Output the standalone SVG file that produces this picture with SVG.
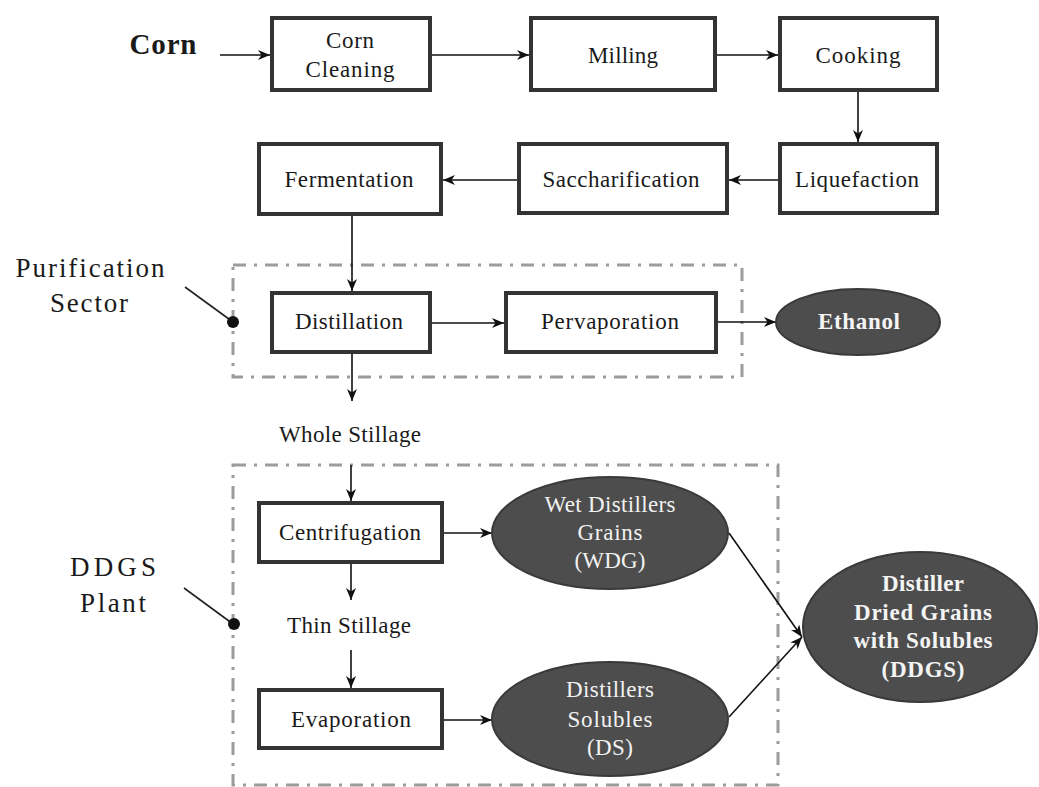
<svg xmlns="http://www.w3.org/2000/svg" width="1039" height="787" viewBox="0 0 1039 787" font-family="'Liberation Serif', 'Times New Roman', Times, 'DejaVu Serif', serif">
<style>
  text { font-family: 'Liberation Serif', 'Times New Roman', Times, 'DejaVu Serif', serif; fill: #1a1a1a; }
  .lbl { font-size: 23px; text-anchor: middle; }
  .big { font-size: 27px; text-anchor: middle; }
  .wl { font-size: 23px; text-anchor: middle; fill: #f2f2f2; }
  .wb { font-size: 23px; text-anchor: middle; fill: #f4f4f4; font-weight: bold; }
  .box { fill: #ffffff; stroke: #333333; stroke-width: 4; }
  .ell { fill: #4d4d4d; stroke: #3a3a3a; stroke-width: 2; }
  .zone { fill: none; stroke: #9c9c9c; stroke-width: 3; stroke-dasharray: 13 8 3 8; }
  .con { stroke: #111111; stroke-width: 1.6; fill: none; marker-end: url(#ah); }
  .lead { stroke: #222222; stroke-width: 1.6; fill: none; }
</style>
<defs>
  <marker id="ah" markerUnits="userSpaceOnUse" markerWidth="12" markerHeight="10" refX="12" refY="5" orient="auto">
    <path d="M0,0 L12,5 L0,10 L3.5,5 Z" fill="#111111"/>
  </marker>
</defs>
<rect width="1039" height="787" fill="#ffffff"/>

<g id="zones">
  <rect id="purification-zone" class="zone" x="233" y="265" width="509" height="112"/>
  <rect id="ddgs-zone" class="zone" x="233" y="465" width="545" height="320"/>
</g>

<g id="labels" font-family="'Liberation Serif', 'Times New Roman', serif">
  <text id="corn-label" x="163" y="54" font-family="'Liberation Serif', serif" style="font-size:29px;font-weight:bold;text-anchor:middle" textLength="67">Corn</text>
  <g id="purification-label">
    <text class="big" x="90" y="277" font-family="'Liberation Serif', serif" textLength="149">Purification</text>
    <text class="big" x="89" y="312" font-family="'Liberation Serif', serif" textLength="78">Sector</text>
    <line class="lead" x1="185" y1="287" x2="233" y2="322"/>
    <circle cx="233" cy="322" r="6" fill="#111111"/>
  </g>
  <g id="ddgs-plant-label">
    <text class="big" x="113" y="576" font-family="'Liberation Serif', serif" textLength="86">DDGS</text>
    <text class="big" x="113" y="612" font-family="'Liberation Serif', serif" textLength="66">Plant</text>
    <line class="lead" x1="184" y1="588" x2="233" y2="624"/>
    <circle cx="234" cy="624" r="6" fill="#111111"/>
  </g>
  <text id="whole-stillage" class="lbl" x="350" y="442" textLength="142">Whole Stillage</text>
  <text id="thin-stillage" class="lbl" x="349" y="633" textLength="124">Thin Stillage</text>
</g>

<g id="connectors">
  <line class="con" x1="220" y1="55" x2="270" y2="55"/>
  <line class="con" x1="432" y1="55" x2="529" y2="55"/>
  <line class="con" x1="717" y1="55" x2="778" y2="55"/>
  <line class="con" x1="858" y1="92" x2="858" y2="142"/>
  <line class="con" x1="778" y1="180" x2="729" y2="180"/>
  <line class="con" x1="517" y1="180" x2="443" y2="180"/>
  <line class="con" x1="352" y1="216" x2="352" y2="291"/>
  <line class="con" x1="432" y1="323" x2="504" y2="323"/>
  <line class="con" x1="717" y1="322" x2="776" y2="322"/>
  <line class="con" x1="352" y1="354" x2="352" y2="401"/>
  <line class="con" x1="351" y1="465" x2="351" y2="501"/>
  <line class="con" x1="351" y1="564" x2="351" y2="600"/>
  <line class="con" x1="351" y1="650" x2="351" y2="688"/>
  <line class="con" x1="444" y1="533" x2="492" y2="533"/>
  <line class="con" x1="444" y1="720" x2="492" y2="720"/>
  <line class="con" x1="729" y1="533" x2="802" y2="637"/>
  <line class="con" x1="729" y1="717" x2="802" y2="637"/>
</g>

<g id="corn-cleaning">
  <rect class="box" x="272" y="18" width="158" height="72"/>
  <text class="lbl" x="350" y="48" textLength="48">Corn</text>
  <text class="lbl" x="350" y="77" textLength="89">Cleaning</text>
</g>
<g id="milling">
  <rect class="box" x="531" y="18" width="184" height="72"/>
  <text class="lbl" x="623" y="63" textLength="70">Milling</text>
</g>
<g id="cooking">
  <rect class="box" x="780" y="18" width="157" height="72"/>
  <text class="lbl" x="858" y="63" textLength="85">Cooking</text>
</g>
<g id="liquefaction">
  <rect class="box" x="780" y="144" width="157" height="69"/>
  <text class="lbl" x="857" y="187" textLength="124">Liquefaction</text>
</g>
<g id="saccharification">
  <rect class="box" x="519" y="144" width="208" height="69"/>
  <text class="lbl" x="621" y="187" textLength="157">Saccharification</text>
</g>
<g id="fermentation">
  <rect class="box" x="259" y="144" width="182" height="70"/>
  <text class="lbl" x="349" y="187" textLength="129">Fermentation</text>
</g>
<g id="distillation">
  <rect class="box" x="272" y="293" width="158" height="59"/>
  <text class="lbl" x="349" y="329" textLength="108">Distillation</text>
</g>
<g id="pervaporation">
  <rect class="box" x="506" y="293" width="210" height="59"/>
  <text class="lbl" x="610" y="329" textLength="138">Pervaporation</text>
</g>
<g id="ethanol">
  <ellipse class="ell" cx="858" cy="322" rx="82" ry="33"/>
  <text class="wb" x="859" y="329" textLength="82">Ethanol</text>
</g>
<g id="centrifugation">
  <rect class="box" x="259" y="503" width="183" height="59"/>
  <text class="lbl" x="350" y="540" textLength="142">Centrifugation</text>
</g>
<g id="evaporation">
  <rect class="box" x="259" y="690" width="183" height="58"/>
  <text class="lbl" x="351" y="727" textLength="120">Evaporation</text>
</g>
<g id="wdg">
  <ellipse class="ell" cx="610" cy="533" rx="118" ry="56"/>
  <text class="wl" x="610" y="512" textLength="131">Wet Distillers</text>
  <text class="wl" x="610" y="540" textLength="65">Grains</text>
  <text class="wl" x="610" y="568" textLength="71">(WDG)</text>
</g>
<g id="ds">
  <ellipse class="ell" cx="610" cy="719" rx="118" ry="57"/>
  <text class="wl" x="610" y="697" textLength="88">Distillers</text>
  <text class="wl" x="610" y="727" textLength="85">Solubles</text>
  <text class="wl" x="610" y="755" textLength="46">(DS)</text>
</g>
<g id="ddgs">
  <ellipse class="ell" cx="920" cy="627" rx="117" ry="75"/>
  <text class="wb" x="923" y="591" textLength="82">Distiller</text>
  <text class="wb" x="923" y="620" textLength="138">Dried Grains</text>
  <text class="wb" x="923" y="648" textLength="139">with Solubles</text>
  <text class="wb" x="923" y="677" textLength="83">(DDGS)</text>
</g>
</svg>
